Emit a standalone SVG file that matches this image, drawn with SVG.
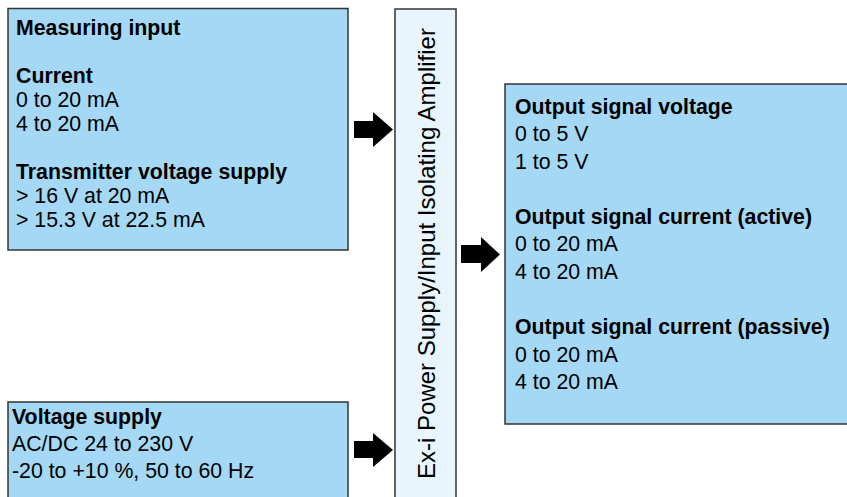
<svg xmlns="http://www.w3.org/2000/svg" width="847" height="497" viewBox="0 0 847 497">
  <style>
    .box { fill: #a4d8f4; stroke: #333333; stroke-width: 1.5; }
    .mid { fill: #e9f5fd; stroke: #333333; stroke-width: 1.5; }
    text { font-family: "Liberation Sans", Arial, sans-serif; font-size: 21.3px; fill: #000000; }
    .b { font-weight: bold; }
    .vert { font-size: 24px; }
    .arrow { fill: #000000; }
  </style>
  <rect width="847" height="497" fill="#ffffff"/>

  <g id="measuring-input">
    <rect class="box" x="8" y="8.5" width="340" height="241.5"/>
    <text class="b" x="16" y="35">Measuring input</text>
    <text class="b" x="16" y="83">Current</text>
    <text x="16" y="107">0 to 20 mA</text>
    <text x="16" y="131">4 to 20 mA</text>
    <text class="b" x="16" y="179">Transmitter voltage supply</text>
    <text x="16" y="202.5">&gt; 16 V at 20 mA</text>
    <text x="16" y="226.5">&gt; 15.3 V at 22.5 mA</text>
  </g>

  <g id="voltage-supply">
    <rect class="box" x="8" y="402" width="340" height="100"/>
    <text class="b" x="12" y="423.5">Voltage supply</text>
    <text x="12" y="450.5">AC/DC 24 to 230 V</text>
    <text x="12" y="477.5">-20 to +10 %, 50 to 60 Hz</text>
  </g>

  <g id="amplifier">
    <rect class="mid" x="395" y="9" width="61" height="495"/>
    <text class="vert" transform="translate(434.5,253.5) rotate(-90)" text-anchor="middle">Ex-i Power Supply/Input Isolating Amplifier</text>
  </g>

  <g id="output">
    <rect class="box" x="505" y="84" width="350" height="340"/>
    <text class="b" x="515" y="113.5">Output signal voltage</text>
    <text x="515" y="141">0 to 5 V</text>
    <text x="515" y="168.5">1 to 5 V</text>
    <text class="b" x="515" y="223.5">Output signal current (active)</text>
    <text x="515" y="251">0 to 20 mA</text>
    <text x="515" y="278.5">4 to 20 mA</text>
    <text class="b" x="515" y="334">Output signal current (passive)</text>
    <text x="515" y="361.5">0 to 20 mA</text>
    <text x="515" y="389">4 to 20 mA</text>
  </g>

  <g id="connectors">
    <path class="arrow" d="M354,121 H373 V112 L393,129.5 L373,147 V138 H354 Z"/>
    <path class="arrow" d="M461,245 H481 V237 L500,254.5 L481,272 V263 H461 Z"/>
    <path class="arrow" d="M354,441 H373 V433 L393,450 L373,467 V458 H354 Z"/>
  </g>
</svg>
